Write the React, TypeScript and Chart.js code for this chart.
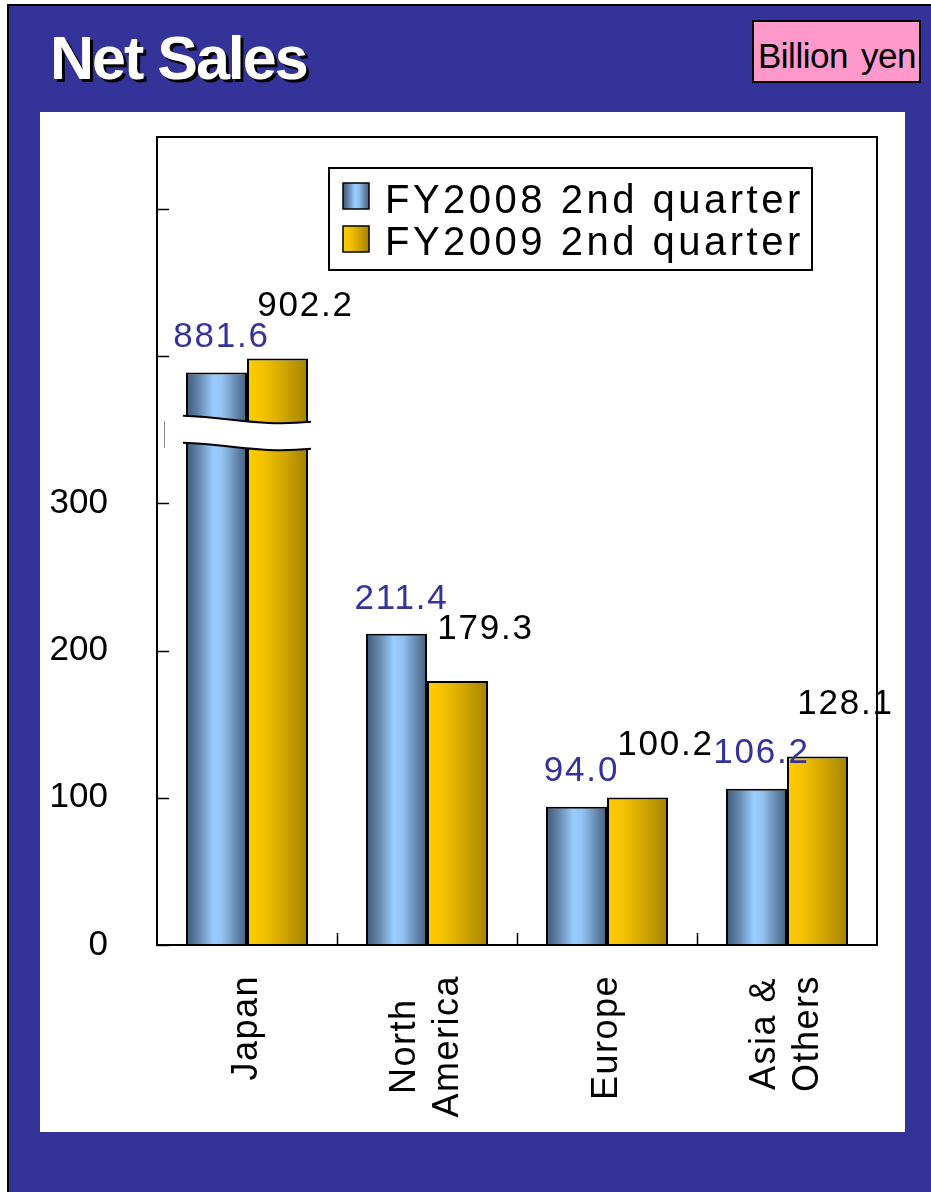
import React, { useEffect, useRef } from 'react';
import { Chart, registerables } from 'chart.js';

Chart.register(...registerables);

// ---- data ----
const categories: string[][] = [['Japan'], ['North', 'America'], ['Europe'], ['Asia &', 'Others']];
const seriesNames = ['FY2008 2nd quarter', 'FY2009 2nd quarter'];
const fy2008 = [881.6, 211.4, 94.0, 106.2];
const fy2009 = [902.2, 179.3, 100.2, 128.1];
// Japan bars are drawn on a broken axis: their drawn heights (axis units)
const japanDrawnHeights = [389.0, 398.5];
const yTickValues = [0, 100, 200, 300, 400, 500];
const yTickLabels = ['0', '100', '200', '300', '', ''];
const axisMax = 549;
const breakValue = 348;

const FONT = '"Liberation Sans", Arial, sans-serif';
const BLUE_TEXT = '#333399';
const catPct = 0.678;

const blueStops: [number, string][] = [
  [0, '#3f5877'], [0.2, '#6385aa'], [0.45, '#99ccff'], [0.6, '#93c3f3'], [0.82, '#6889b0'], [1, '#445f80'],
];
const goldStops: [number, string][] = [
  [0, '#ffcc00'], [0.25, '#f4c300'], [0.6, '#d2a700'], [1, '#a38100'],
];
const stopsFor = [blueStops, goldStops];

function makeGrad(ctx: CanvasRenderingContext2D, x0: number, x1: number, stops: [number, string][]) {
  const g = ctx.createLinearGradient(x0, 0, x1, 0);
  stops.forEach(([o, c]) => g.addColorStop(o, c));
  return g;
}

function setSpacing(ctx: any, v: string) {
  if ('letterSpacing' in ctx) ctx.letterSpacing = v;
}

const overlayPlugin = {
  id: 'overlay',
  afterDatasetsDraw(chart: any) {
    const ctx: CanvasRenderingContext2D = chart.ctx;
    const { left, right, top, bottom } = chart.chartArea;
    const xs = chart.scales.x;
    const ys = chart.scales.y;
    ctx.save();

    // break band on Japan bars
    const cx = xs.getPixelForValue(0);
    const catW = xs.width / categories.length;
    const groupW = catW * catPct;
    const bx0 = cx - groupW / 2 - 3;
    const bx1 = cx + groupW / 2 + 3;
    const w = bx1 - bx0;
    const c = ys.getPixelForValue(breakValue);
    const curve = (dy: number) => {
      ctx.moveTo(bx0, c + dy - 17);
      ctx.bezierCurveTo(bx0 + 0.4 * w, c + dy - 15, bx0 + 0.6 * w, c + dy - 6, bx1, c + dy - 11);
    };
    const gap = 27;
    ctx.beginPath();
    ctx.moveTo(bx0, c - 17);
    ctx.bezierCurveTo(bx0 + 0.4 * w, c - 15, bx0 + 0.6 * w, c - 6, bx1, c - 11);
    ctx.lineTo(bx1, c - 11 + gap);
    ctx.bezierCurveTo(bx0 + 0.6 * w, c - 6 + gap, bx0 + 0.4 * w, c - 15 + gap, bx0, c - 17 + gap);
    ctx.closePath();
    ctx.fillStyle = '#ffffff';
    ctx.fill();
    ctx.strokeStyle = '#000';
    ctx.lineWidth = 2;
    ctx.beginPath();
    curve(0);
    ctx.stroke();
    ctx.beginPath();
    curve(gap);
    ctx.stroke();

    // axis break mark
    ctx.strokeStyle = '#888';
    ctx.lineWidth = 1;
    ctx.beginPath();
    ctx.moveTo(left + 7.5, c - 12);
    ctx.lineTo(left + 7.5, c + 15);
    ctx.stroke();

    // plot frame
    ctx.strokeStyle = '#000';
    ctx.lineWidth = 2;
    ctx.strokeRect(left, top, right - left, bottom - top);

    // inward y ticks
    ctx.lineWidth = 1.5;
    yTickValues.forEach((v) => {
      const y = Math.round(ys.getPixelForValue(v)) + 0.5;
      ctx.beginPath();
      ctx.moveTo(left, y);
      ctx.lineTo(left + 12, y);
      ctx.stroke();
    });
    // inward x ticks at category boundaries
    for (let i = 0; i < categories.length - 1; i++) {
      const x = Math.round((xs.getPixelForValue(i) + xs.getPixelForValue(i + 1)) / 2) + 0.5;
      ctx.beginPath();
      ctx.moveTo(x, bottom);
      ctx.lineTo(x, bottom - 12);
      ctx.stroke();
    }

    // value labels
    const series = [fy2008, fy2009];
    ctx.font = `35px ${FONT}`;
    setSpacing(ctx, '1.8px');
    ctx.textAlign = 'center';
    ctx.textBaseline = 'middle';
    series.forEach((vals, di) => {
      const meta = chart.getDatasetMeta(di);
      meta.data.forEach((el: any, i: number) => {
        ctx.fillStyle = di === 0 ? BLUE_TEXT : '#000';
        const dx = di === 0 ? 5 : 28;
        const dy = di === 0 ? 35 : 52;
        ctx.fillText(vals[i].toFixed(1), el.x + dx, el.y - dy);
      });
    });

    // legend
    const lx = left + 172;
    const ly = top + 31;
    const lw = 483;
    const lh = 102;
    ctx.fillStyle = '#fff';
    ctx.fillRect(lx, ly, lw, lh);
    ctx.strokeStyle = '#000';
    ctx.lineWidth = 2;
    ctx.strokeRect(lx, ly, lw, lh);
    ctx.font = `40px ${FONT}`;
    setSpacing(ctx, '3.5px');
    ctx.textAlign = 'left';
    ctx.textBaseline = 'alphabetic';
    seriesNames.forEach((name, i) => {
      const sy = ly + 15 + i * 43;
      const sx = lx + 14;
      ctx.fillStyle = makeGrad(ctx, sx, sx + 26, stopsFor[i]);
      ctx.fillRect(sx, sy, 26, 26);
      ctx.lineWidth = 1.5;
      ctx.strokeStyle = '#000';
      ctx.strokeRect(sx, sy, 26, 26);
      ctx.fillStyle = '#000';
      ctx.fillText(name, lx + 56, ly + 45 + i * 42);
    });

    // x category labels (rotated)
    ctx.font = `36px ${FONT}`;
    setSpacing(ctx, '1.5px');
    ctx.fillStyle = '#000';
    ctx.textAlign = 'center';
    ctx.textBaseline = 'middle';
    categories.forEach((lines, i) => {
      const x = xs.getPixelForValue(i);
      const maxW = Math.max(...lines.map((l) => ctx.measureText(l).width));
      const topY = bottom + 30;
      ctx.save();
      ctx.translate(x, topY + maxW / 2);
      ctx.rotate(-Math.PI / 2);
      lines.forEach((l, j) => {
        ctx.fillText(l, 0, (j - (lines.length - 1) / 2) * 43);
      });
      ctx.restore();
    });

    setSpacing(ctx, '0px');
    ctx.restore();
  },
};

function barGradient(di: number) {
  return (c: any) => {
    const chart = c.chart;
    const xs = chart.scales?.x;
    if (!xs || !chart.chartArea || c.type !== 'data') return stopsFor[di][0][1];
    const center = xs.getPixelForValue(c.dataIndex);
    const catW = xs.width / categories.length;
    const groupW = catW * catPct;
    const bw = groupW / 2;
    const x0 = center - groupW / 2 + di * bw;
    return makeGrad(chart.ctx, x0, x0 + bw, stopsFor[di]);
  };
}

export default function App() {
  const ref = useRef<HTMLCanvasElement | null>(null);
  useEffect(() => {
    document.body.style.overflow = 'hidden';
    const canvas = ref.current!;
    const d2008 = fy2008.map((v, i) => (i === 0 ? japanDrawnHeights[0] : v));
    const d2009 = fy2009.map((v, i) => (i === 0 ? japanDrawnHeights[1] : v));
    const chart = new Chart(canvas, {
      type: 'bar',
      data: {
        labels: categories.map((l) => l.join(' ')),
        datasets: [
          {
            label: seriesNames[0],
            data: d2008,
            backgroundColor: barGradient(0),
            borderColor: '#000',
            borderWidth: 2,
            categoryPercentage: catPct,
            barPercentage: 1,
          },
          {
            label: seriesNames[1],
            data: d2009,
            backgroundColor: barGradient(1),
            borderColor: '#000',
            borderWidth: 2,
            categoryPercentage: catPct,
            barPercentage: 1,
          },
        ],
      },
      options: {
        animation: false,
        responsive: false,
        devicePixelRatio: 1,
        layout: { padding: { left: 0, top: 25, right: 28, bottom: 187 } },
        plugins: { legend: { display: false }, tooltip: { enabled: false }, title: { display: false } },
        scales: {
          x: { display: false },
          y: {
            min: 0,
            max: axisMax,
            grid: { display: false, drawTicks: false },
            border: { display: false },
            afterFit: (s: any) => {
              s.width = 117;
              s.paddingTop = 0;
              s.paddingBottom = 0;
            },
            ticks: {
              stepSize: 100,
              includeBounds: false,
              padding: 49,
              color: '#000',
              font: { size: 35, family: FONT },
              callback: (v: any) => {
                const k = yTickValues.indexOf(Number(v));
                return k >= 0 ? yTickLabels[k] : '';
              },
            },
          },
        },
      },
      plugins: [overlayPlugin],
    });
    return () => chart.destroy();
  }, []);

  return (
    <div style={{ position: 'absolute', left: 0, top: 0, width: 931, height: 1192, overflow: 'hidden', background: '#fff' }}>
      <div
        style={{
          position: 'absolute',
          left: 7,
          top: 4,
          width: 924,
          height: 1188,
          background: '#333399',
          borderLeft: '2px solid #000',
          borderTop: '2px solid #000',
          boxSizing: 'border-box',
        }}
      />
      <div
        style={{
          position: 'absolute',
          left: 50,
          top: 28,
          fontFamily: FONT,
          fontSize: 61,
          fontWeight: 'bold',
          lineHeight: '60px',
          letterSpacing: '-2px',
          color: '#fff',
          textShadow: '3px 3px 0 #000',
          whiteSpace: 'nowrap',
        }}
      >
        Net Sales
      </div>
      <div
        style={{
          position: 'absolute',
          left: 752,
          top: 20,
          width: 169,
          height: 63,
          background: '#ff99cc',
          border: '2px solid #000',
          boxSizing: 'border-box',
        }}
      >
        <span
          style={{
            position: 'absolute',
            left: 4,
            top: 16,
            fontFamily: FONT,
            fontSize: 35,
            lineHeight: '35px',
            letterSpacing: '-0.5px',
            wordSpacing: '4px',
            color: '#000',
            whiteSpace: 'nowrap',
          }}
        >
          Billion yen
        </span>
      </div>
      <div style={{ position: 'absolute', left: 40, top: 112, width: 865, height: 1020, background: '#fff' }}>
        <canvas ref={ref} width={865} height={1020} style={{ display: 'block', width: 865, height: 1020 }} />
      </div>
    </div>
  );
}
